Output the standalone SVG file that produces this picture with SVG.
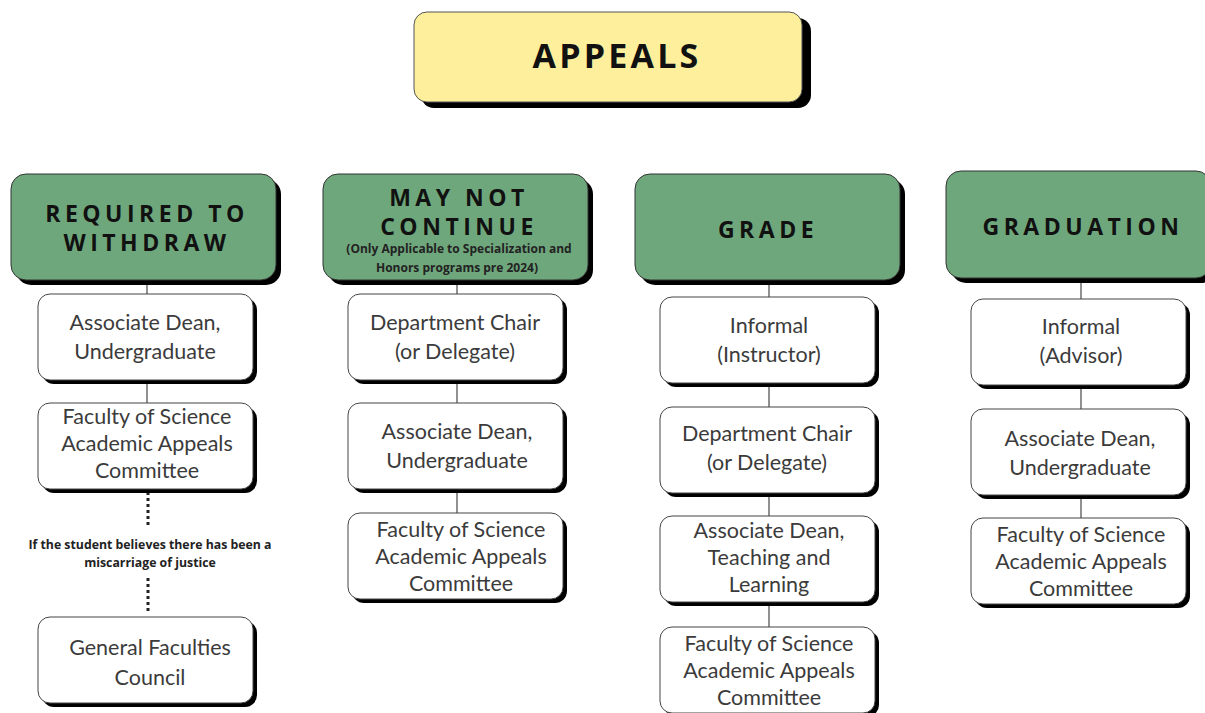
<svg xmlns="http://www.w3.org/2000/svg" width="1205" height="713" viewBox="0 0 1205 713">
<style>
.sh{fill:#000}
.title{fill:#fdef9b;stroke:#555;stroke-width:1}
.hdr{fill:#6fa77c;stroke:#333;stroke-width:1}
.box{fill:#fff;stroke:#444;stroke-width:1}
.ht{font-family:"Open Sans","DejaVu Sans",sans-serif;font-weight:700;font-size:23px;letter-spacing:4.5px;fill:#111;text-anchor:middle}
.tt{font-family:"Open Sans","DejaVu Sans",sans-serif;font-weight:700;font-size:34px;letter-spacing:3.2px;fill:#111;text-anchor:middle}
.st{font-family:"Open Sans","DejaVu Sans",sans-serif;font-weight:700;font-size:12px;fill:#222;text-anchor:middle}
.bt{font-family:"Lato","Open Sans",sans-serif;font-size:21.5px;fill:#3b3b3b;text-anchor:middle}
.nt{font-family:"Open Sans","DejaVu Sans",sans-serif;font-weight:700;font-size:12.3px;fill:#222;text-anchor:middle}
.ln{stroke:#555;stroke-width:1.3;fill:none}
.dot{stroke:#222;stroke-width:3;stroke-dasharray:3 3;fill:none}
</style>
<rect width="1205" height="713" fill="#fff"/>
<g id="connectors">
<line class="ln" x1="147" y1="280" x2="147" y2="294"/>
<line class="ln" x1="147" y1="380" x2="147" y2="403"/>
<line class="dot" x1="148" y1="492" x2="148" y2="528"/>
<line class="dot" x1="148" y1="578" x2="148" y2="614"/>
<line class="ln" x1="457" y1="280" x2="457" y2="294"/>
<line class="ln" x1="457" y1="380" x2="457" y2="403"/>
<line class="ln" x1="457" y1="489" x2="457" y2="513"/>
<line class="ln" x1="769" y1="280" x2="769" y2="297"/>
<line class="ln" x1="769" y1="383" x2="769" y2="407"/>
<line class="ln" x1="769" y1="493" x2="769" y2="516"/>
<line class="ln" x1="769" y1="602" x2="769" y2="627"/>
<line class="ln" x1="1081" y1="278" x2="1081" y2="299"/>
<line class="ln" x1="1081" y1="385" x2="1081" y2="409"/>
<line class="ln" x1="1081" y1="495" x2="1081" y2="518"/>
<text class="nt" x="150" y="549">If the student believes there has been a</text>
<text class="nt" x="150" y="567">miscarriage of justice</text>
</g>
<g id="title">
<rect class="sh" x="421" y="18" width="390" height="90" rx="13"/>
<rect class="title" x="414" y="12" width="388" height="90" rx="13"/>
<text class="tt" x="617" y="68">APPEALS</text>
</g>
<g id="h1">
<rect class="sh" x="16" y="179" width="265" height="106" rx="15"/>
<rect class="hdr" x="11" y="174" width="265" height="106" rx="15"/>
<text class="ht" x="147" y="222">REQUIRED TO</text>
<text class="ht" x="147" y="251">WITHDRAW</text>
</g>
<g id="h2">
<rect class="sh" x="328" y="179" width="265" height="106" rx="15"/>
<rect class="hdr" x="323" y="174" width="265" height="106" rx="15"/>
<text class="ht" x="459" y="206">MAY NOT</text>
<text class="ht" x="459" y="235">CONTINUE</text>
<text class="st" x="459" y="253">(Only Applicable to Specialization and</text>
<text class="st" x="457" y="272">Honors programs pre 2024)</text>
</g>
<g id="h3">
<rect class="sh" x="640" y="179" width="265" height="106" rx="15"/>
<rect class="hdr" x="635" y="174" width="265" height="106" rx="15"/>
<text class="ht" x="768" y="238">GRADE</text>
</g>
<g id="h4">
<rect class="sh" x="951" y="176" width="265" height="107" rx="15"/>
<rect class="hdr" x="946" y="171" width="265" height="107" rx="15"/>
<text class="ht" x="1083" y="235">GRADUATION</text>
</g>
<g id="c1b1">
<rect class="sh" x="42" y="298" width="215" height="86" rx="12"/>
<rect class="box" x="38" y="294" width="215" height="86" rx="12"/>
<text class="bt" x="145" y="330">Associate Dean,</text>
<text class="bt" x="145" y="359">Undergraduate</text>
</g>
<g id="c1b2">
<rect class="sh" x="42" y="407" width="215" height="86" rx="12"/>
<rect class="box" x="38" y="403" width="215" height="86" rx="12"/>
<text class="bt" x="147" y="424">Faculty of Science</text>
<text class="bt" x="147" y="451">Academic Appeals</text>
<text class="bt" x="147" y="478">Committee</text>
</g>
<g id="c1b3">
<rect class="sh" x="42" y="621" width="215" height="86" rx="12"/>
<rect class="box" x="38" y="617" width="215" height="86" rx="12"/>
<text class="bt" x="150" y="655">General Faculties</text>
<text class="bt" x="150" y="685">Council</text>
</g>
<g id="c2b1">
<rect class="sh" x="352" y="298" width="215" height="86" rx="12"/>
<rect class="box" x="348" y="294" width="215" height="86" rx="12"/>
<text class="bt" x="455" y="330">Department Chair</text>
<text class="bt" x="455" y="359">(or Delegate)</text>
</g>
<g id="c2b2">
<rect class="sh" x="352" y="407" width="215" height="86" rx="12"/>
<rect class="box" x="348" y="403" width="215" height="86" rx="12"/>
<text class="bt" x="457" y="439">Associate Dean,</text>
<text class="bt" x="457" y="468">Undergraduate</text>
</g>
<g id="c2b3">
<rect class="sh" x="352" y="517" width="215" height="86" rx="12"/>
<rect class="box" x="348" y="513" width="215" height="86" rx="12"/>
<text class="bt" x="461" y="537">Faculty of Science</text>
<text class="bt" x="461" y="564">Academic Appeals</text>
<text class="bt" x="461" y="591">Committee</text>
</g>
<g id="c3b1">
<rect class="sh" x="664" y="301" width="215" height="86" rx="12"/>
<rect class="box" x="660" y="297" width="215" height="86" rx="12"/>
<text class="bt" x="769" y="333">Informal</text>
<text class="bt" x="769" y="362">(Instructor)</text>
</g>
<g id="c3b2">
<rect class="sh" x="664" y="411" width="215" height="86" rx="12"/>
<rect class="box" x="660" y="407" width="215" height="86" rx="12"/>
<text class="bt" x="767" y="441">Department Chair</text>
<text class="bt" x="767" y="470">(or Delegate)</text>
</g>
<g id="c3b3">
<rect class="sh" x="664" y="520" width="215" height="86" rx="12"/>
<rect class="box" x="660" y="516" width="215" height="86" rx="12"/>
<text class="bt" x="769" y="538">Associate Dean,</text>
<text class="bt" x="769" y="565">Teaching and</text>
<text class="bt" x="769" y="592">Learning</text>
</g>
<g id="c3b4">
<rect class="sh" x="664" y="631" width="215" height="86" rx="12"/>
<rect class="box" x="660" y="627" width="215" height="86" rx="12"/>
<text class="bt" x="769" y="651">Faculty of Science</text>
<text class="bt" x="769" y="678">Academic Appeals</text>
<text class="bt" x="769" y="705">Committee</text>
</g>
<g id="c4b1">
<rect class="sh" x="975" y="303" width="215" height="86" rx="12"/>
<rect class="box" x="971" y="299" width="215" height="86" rx="12"/>
<text class="bt" x="1081" y="334">Informal</text>
<text class="bt" x="1081" y="363">(Advisor)</text>
</g>
<g id="c4b2">
<rect class="sh" x="975" y="413" width="215" height="86" rx="12"/>
<rect class="box" x="971" y="409" width="215" height="86" rx="12"/>
<text class="bt" x="1080" y="446">Associate Dean,</text>
<text class="bt" x="1080" y="475">Undergraduate</text>
</g>
<g id="c4b3">
<rect class="sh" x="975" y="522" width="215" height="86" rx="12"/>
<rect class="box" x="971" y="518" width="215" height="86" rx="12"/>
<text class="bt" x="1081" y="542">Faculty of Science</text>
<text class="bt" x="1081" y="569">Academic Appeals</text>
<text class="bt" x="1081" y="596">Committee</text>
</g>
</svg>
